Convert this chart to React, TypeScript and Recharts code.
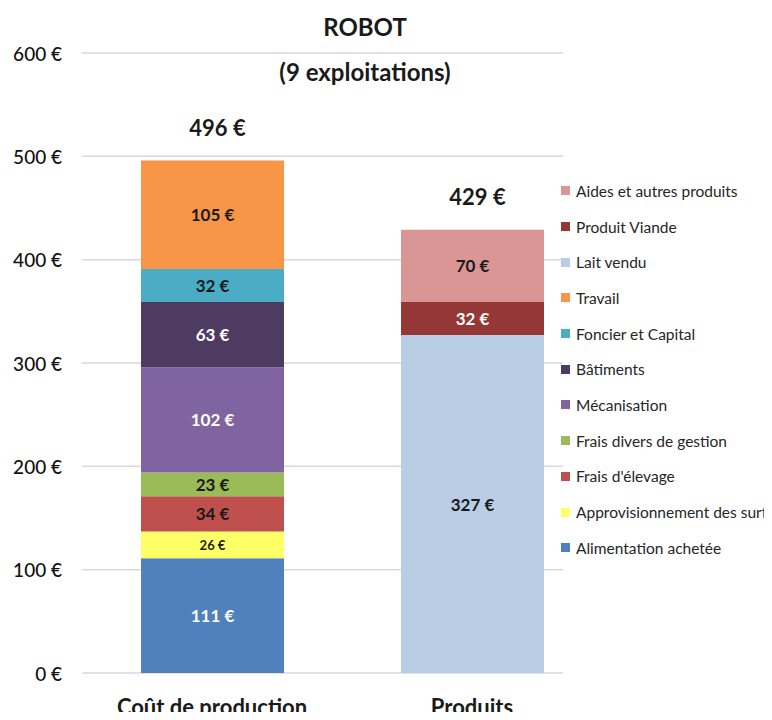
import React from 'react'
import { BarChart, Bar, XAxis, YAxis, CartesianGrid, LabelList } from 'recharts'

const C = {
  text: '#1a1a1a', grid: '#d9d9d9', white: '#ffffff',
}

// categories + series (bottom to top in each stack)
const categories = ['Coût de production', 'Produits']
const totals = [496, 429]
const alimentationAchetee = [111, null]
const approvisionnement = [26, null]
const fraisElevage = [34, null]
const fraisDivers = [23, null]
const mecanisation = [102, null]
const batiments = [63, null]
const foncierCapital = [32, null]
const travail = [105, null]
const laitVendu = [null, 327]
const produitViande = [null, 32]
const aidesAutres = [null, 70]
const yTicks = [0, 100, 200, 300, 400, 500, 600]

const series = [
  { key: 'alim', name: 'Alimentation achetée', values: alimentationAchetee, color: '#4f81bd', label: '#ffffff', size: 17 },
  { key: 'appro', name: 'Approvisionnement des surfaces', values: approvisionnement, color: '#ffff66', label: '#1a1a1a', size: 13 },
  { key: 'elev', name: "Frais d'élevage", values: fraisElevage, color: '#c0504d', label: '#1a1a1a', size: 17 },
  { key: 'divers', name: 'Frais divers de gestion', values: fraisDivers, color: '#9bbb59', label: '#1a1a1a', size: 17 },
  { key: 'meca', name: 'Mécanisation', values: mecanisation, color: '#8064a2', label: '#ffffff', size: 17 },
  { key: 'bat', name: 'Bâtiments', values: batiments, color: '#4d3b62', label: '#ffffff', size: 17 },
  { key: 'foncier', name: 'Foncier et Capital', values: foncierCapital, color: '#4bacc6', label: '#1a1a1a', size: 17 },
  { key: 'travail', name: 'Travail', values: travail, color: '#f79646', label: '#1a1a1a', size: 17 },
  { key: 'lait', name: 'Lait vendu', values: laitVendu, color: '#b9cde5', label: '#1a1a1a', size: 17 },
  { key: 'viande', name: 'Produit Viande', values: produitViande, color: '#953735', label: '#ffffff', size: 17 },
  { key: 'aides', name: 'Aides et autres produits', values: aidesAutres, color: '#d99694', label: '#1a1a1a', size: 17 },
]

const data = categories.map((cat, i) => {
  const row: any = { cat, total: totals[i] }
  series.forEach(s => { row[s.key] = s.values[i] })
  return row
})

const segLabel = (color: string, size: number) => (p: any) => {
  if (p.value == null || !p.height || p.height <= 0) return null
  return (
    <text x={p.x + p.width / 2} y={p.y + p.height / 2} textAnchor="middle" dominantBaseline="central"
      fill={color} fontSize={size} fontWeight={700}>{p.value} €</text>
  )
}

const totalLabel = (p: any) => {
  if (p.value == null || !p.height || p.height <= 0) return null
  return (
    <text x={p.x + p.width / 2 + 5} y={p.y - 33} textAnchor="middle" dominantBaseline="central"
      fill={C.text} fontSize={22} fontWeight={700}>{p.value} €</text>
  )
}

function YTick(props: any) {
  const { x, y, payload } = props
  return (
    <text x={x - 12} y={y} textAnchor="end" dominantBaseline="central" fill="#111" fontSize={19} fontWeight={500}>
      {payload.value} €
    </text>
  )
}

function XTick(props: any) {
  const { x, y, payload } = props
  return (
    <text x={x} y={y + 25} textAnchor="middle" dominantBaseline="central" fill={C.text} fontSize={22} fontWeight={700}>
      {payload.value}
    </text>
  )
}

export default function App() {
  const legendItems = [...series].reverse()
  return (
    <div style={{ position: 'relative', width: 772, height: 720, margin: -8, overflow: 'hidden', background: C.white, fontFamily: 'Lato, sans-serif' }}>
      <BarChart width={772} height={720} data={data} margin={{ top: 53, right: 170, bottom: 0, left: 0 }}>
        <CartesianGrid vertical={false} stroke={C.grid} strokeWidth={1.5} />
        <XAxis dataKey="cat" height={47} axisLine={false} tickLine={false} tick={<XTick />} interval={0} />
        <YAxis width={82} domain={[0, 600]} ticks={yTicks} axisLine={false} tickLine={false} tick={<YTick />} />
        {series.map(s => (
          <Bar key={s.key} dataKey={s.key} stackId="a" fill={s.color} barSize={143} isAnimationActive={false}>
            <LabelList dataKey={s.key} content={segLabel(s.label, s.size)} />
            {(s.key === 'travail' || s.key === 'aides') && <LabelList dataKey="total" content={totalLabel} />}
          </Bar>
        ))}
      </BarChart>
      <div style={{ position: 'absolute', left: 563, top: 0, width: 209, height: 720, background: C.white }} />
      <div style={{ position: 'absolute', left: 561, top: 173, whiteSpace: 'nowrap' }}>
        {legendItems.map(s => (
          <div key={s.key} style={{ display: 'flex', alignItems: 'center', height: 35.7, fontSize: 15.5, color: '#262626' }}>
            <span style={{ width: 9, height: 9, background: s.color, marginRight: 6, display: 'inline-block' }} />
            {s.name}
          </div>
        ))}
      </div>
      <div style={{ position: 'absolute', left: 0, width: 730, top: 4, textAlign: 'center', fontSize: 24, fontWeight: 700, color: C.text, lineHeight: '45px' }}>
        <div>ROBOT</div>
        <div>(9 exploitations)</div>
      </div>
    </div>
  )
}
